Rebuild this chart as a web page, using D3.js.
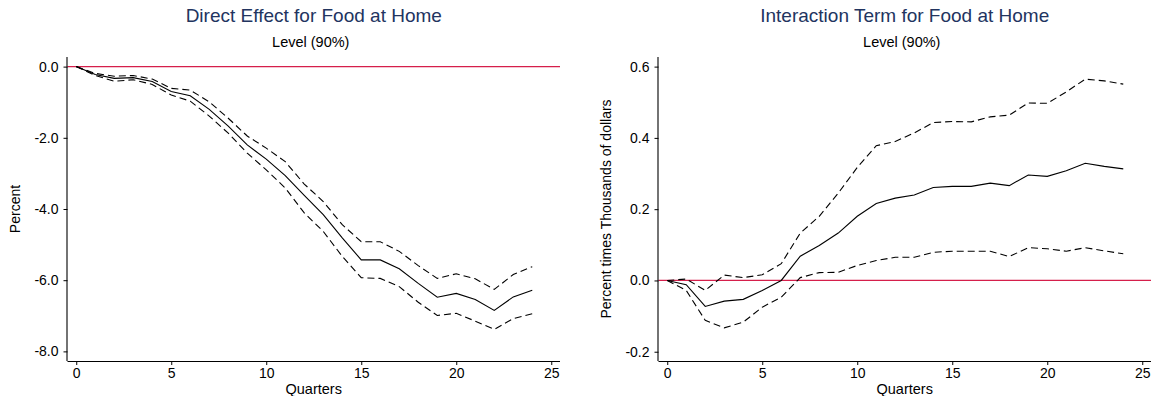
<!DOCTYPE html>
<html>
<head>
<meta charset="utf-8">
<script src="https://cdn.jsdelivr.net/npm/d3@7"></script>
<style>
  html, body { margin: 0; padding: 0; background: #fff; }
  svg { display: block; font-family: "Liberation Sans", Arial, sans-serif; }
</style>
</head>
<body>
<svg id="chart" width="1151" height="396"></svg>
<script>
// ---- Data ----
const quarters = [0,1,2,3,4,5,6,7,8,9,10,11,12,13,14,15,16,17,18,19,20,21,22,23,24];

const directMean  = [0,-0.22,-0.33,-0.31,-0.42,-0.70,-0.82,-1.20,-1.67,-2.20,-2.60,-3.06,-3.62,-4.16,-4.81,-5.43,-5.43,-5.68,-6.09,-6.48,-6.37,-6.54,-6.85,-6.47,-6.28];
const directUpper = [0,-0.19,-0.27,-0.25,-0.35,-0.61,-0.66,-0.99,-1.45,-1.95,-2.29,-2.67,-3.30,-3.79,-4.44,-4.92,-4.92,-5.19,-5.59,-5.95,-5.82,-5.96,-6.26,-5.84,-5.62];
const directLower = [0,-0.25,-0.41,-0.37,-0.50,-0.80,-0.97,-1.39,-1.87,-2.43,-2.90,-3.41,-4.11,-4.63,-5.33,-5.93,-5.95,-6.18,-6.62,-6.99,-6.93,-7.15,-7.38,-7.08,-6.94];

const interMean  = [0,-0.012,-0.073,-0.058,-0.053,-0.028,0.000,0.068,0.098,0.133,0.180,0.216,0.231,0.240,0.261,0.264,0.264,0.273,0.266,0.296,0.292,0.308,0.329,0.320,0.313];
const interUpper = [0,0.004,-0.028,0.015,0.008,0.016,0.047,0.133,0.180,0.245,0.317,0.378,0.390,0.414,0.443,0.446,0.445,0.459,0.464,0.498,0.497,0.529,0.565,0.560,0.551];
const interLower = [0,-0.028,-0.112,-0.133,-0.117,-0.075,-0.047,0.008,0.022,0.023,0.042,0.056,0.065,0.065,0.079,0.082,0.082,0.082,0.067,0.092,0.089,0.082,0.092,0.083,0.075];

const xTicks = [0,5,10,15,20,25];
const yTicksLeft = [0,-2,-4,-6,-8];
const yTickLabelsLeft = ["0.0","-2.0","-4.0","-6.0","-8.0"];
const yTicksRight = [-0.2,0,0.2,0.4,0.6];
const yTickLabelsRight = ["-0.2","0.0","0.2","0.4","0.6"];

const titles = ["Direct Effect for Food at Home","Interaction Term for Food at Home"];
const subtitle = "Level (90%)";
const yTitles = ["Percent","Percent times Thousands of dollars"];
const xTitle = "Quarters";

// ---- Drawing ----
const svg = d3.select("#chart");
const TITLE_COLOR = "#22345f";
const ZERO_COLOR = "#d51f4b";
const FONT = "14px";

function panel(cfg) {
  const g = svg.append("g");
  const x = d3.scaleLinear().domain([-0.46, 25.46]).range([cfg.left, cfg.right]);
  const y = d3.scaleLinear().domain(cfg.yDomain).range([361, 57]);

  // zero reference line
  g.append("line")
    .attr("x1", cfg.left).attr("x2", cfg.right)
    .attr("y1", y(0)).attr("y2", y(0))
    .attr("stroke", ZERO_COLOR).attr("stroke-width", 1.3);

  const line = d3.line().x((d, i) => x(quarters[i])).y(d => y(d));
  const series = [
    {v: cfg.upper, dash: "7,4"},
    {v: cfg.lower, dash: "7,4"},
    {v: cfg.mean, dash: null}
  ];
  series.forEach(s => {
    g.append("path").datum(s.v)
      .attr("d", line)
      .attr("fill", "none")
      .attr("stroke", "#000")
      .attr("stroke-width", 1.1)
      .attr("stroke-dasharray", s.dash);
  });

  // axes
  const xAxis = d3.axisBottom(x).tickValues(xTicks).tickSize(4).tickPadding(3).tickFormat(d3.format("d"));
  const gx = g.append("g").attr("transform", "translate(0,361)").call(xAxis);
  const yAxis = d3.axisLeft(y).tickValues(cfg.yTicks).tickSize(4).tickPadding(5)
    .tickFormat((d, i) => cfg.yLabels[i]);
  const gy = g.append("g").attr("transform", `translate(${cfg.left},0)`).call(yAxis);
  [gx, gy].forEach(a => {
    a.select(".domain").attr("stroke", "#000").attr("stroke-width", 1.1);
    a.selectAll(".tick line").attr("stroke", "#000");
    a.selectAll(".tick text").attr("fill", "#000").style("font-size", FONT)
      .style("font-family", "Liberation Sans, Arial, sans-serif");
  });
  gx.select(".domain").attr("d", `M${cfg.left},0.5H${cfg.right}`);
  gy.select(".domain").attr("d", `M-0.5,57V361`);

  const cx = (cfg.left + cfg.right) / 2;
  g.append("text").attr("x", cx).attr("y", 22).attr("text-anchor", "middle")
    .attr("fill", TITLE_COLOR).style("font-size", "19px").text(cfg.title);
  g.append("text").attr("x", cx - 3).attr("y", 47).attr("text-anchor", "middle")
    .attr("fill", "#000").style("font-size", "14.5px").text(subtitle);
  g.append("text").attr("x", cx).attr("y", 394).attr("text-anchor", "middle")
    .attr("fill", "#000").style("font-size", "14.5px").text(xTitle);
  g.append("text").attr("transform", `translate(${cfg.yTitleX},209) rotate(-90)`)
    .attr("text-anchor", "middle").attr("fill", "#000").style("font-size", "14px")
    .text(cfg.yTitle);
}

panel({
  left: 67.5, right: 560, yDomain: [-8.27, 0.27],
  yTicks: yTicksLeft, yLabels: yTickLabelsLeft,
  mean: directMean, upper: directUpper, lower: directLower,
  title: titles[0], yTitle: yTitles[0], yTitleX: 20
});
panel({
  left: 658.5, right: 1151, yDomain: [-0.226, 0.627],
  yTicks: yTicksRight, yLabels: yTickLabelsRight,
  mean: interMean, upper: interUpper, lower: interLower,
  title: titles[1], yTitle: yTitles[1], yTitleX: 611
});
</script>
</body>
</html>
